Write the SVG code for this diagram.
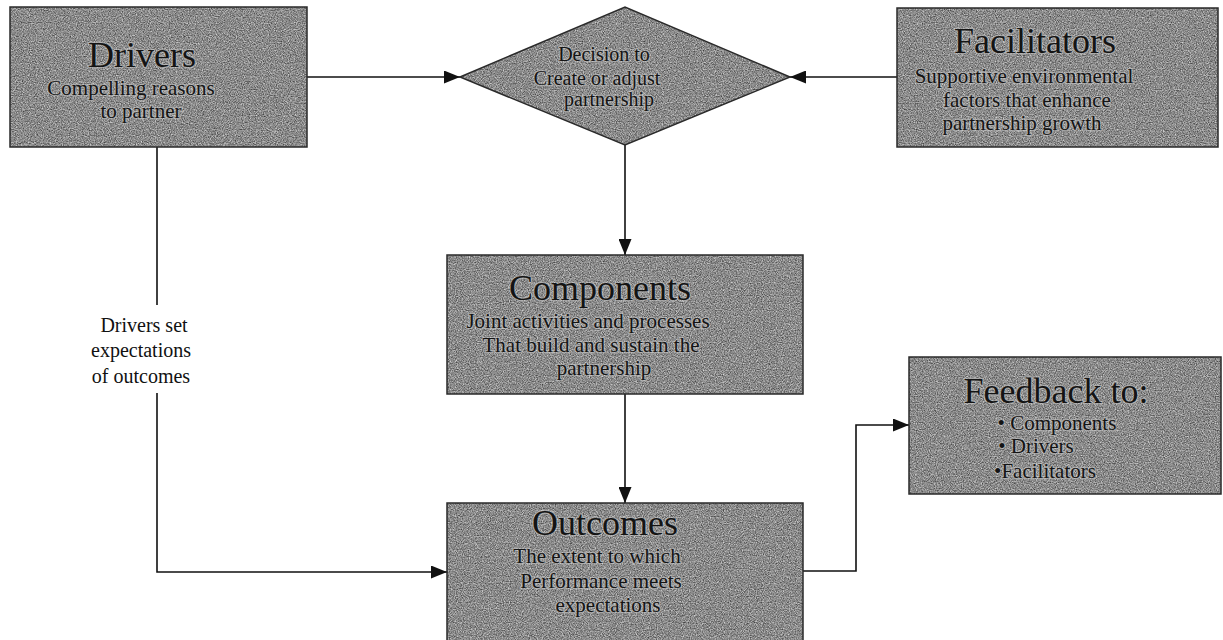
<svg xmlns="http://www.w3.org/2000/svg" width="1223" height="640" viewBox="0 0 1223 640">
<style>
  .tex { fill: #8a8a8a; filter: url(#grain); }
  .edge { fill: none; stroke: #2a2a2a; stroke-width: 1.5; }
  .title, .sub, .dia { font-family: "Liberation Serif", "Times New Roman", serif; fill: #141414; text-anchor: middle; stroke: #d0d0d0; stroke-opacity: 0.45; stroke-width: 2.5; paint-order: stroke; stroke-linejoin: round; }
  .title { font-size: 36px; }
  .sub { font-size: 21px; }
  .dia { font-size: 20px; }
  .lbl { font-family: "Liberation Serif", "Times New Roman", serif; font-size: 20px; fill: #111; text-anchor: middle; }
  .conn { fill: none; stroke: #111; stroke-width: 1.6; }
</style>
<defs>
  <filter id="grain" x="0" y="0" width="100%" height="100%" filterUnits="objectBoundingBox" color-interpolation-filters="sRGB">
    <feTurbulence type="fractalNoise" baseFrequency="0.85" numOctaves="2" seed="7" result="n"/>
    <feColorMatrix in="n" type="matrix" values="0.8 0 0 0 0.14  0.8 0 0 0 0.14  0.8 0 0 0 0.14  0 0 0 0 1" result="g"/>
    <feComposite in="g" in2="SourceGraphic" operator="in"/>
  </filter>
  <marker id="arr" markerUnits="userSpaceOnUse" markerWidth="17" markerHeight="13" refX="16" refY="6.5" orient="auto">
    <path d="M0,0 L16,6.5 L0,13 z" fill="#111"/>
  </marker>
</defs>
<rect width="1223" height="640" fill="#ffffff"/>

<g id="connectors">
  <line class="conn" x1="307" y1="77" x2="460" y2="77" marker-end="url(#arr)"/>
  <line class="conn" x1="897" y1="77" x2="790" y2="77" marker-end="url(#arr)"/>
  <line class="conn" x1="625" y1="145" x2="625" y2="255" marker-end="url(#arr)"/>
  <line class="conn" x1="625" y1="394" x2="625" y2="503" marker-end="url(#arr)"/>
  <path class="conn" d="M157,147 V305"/>
  <path class="conn" d="M157,393 V572 H447" marker-end="url(#arr)"/>
  <path class="conn" d="M803,571 H856 V425 H909" marker-end="url(#arr)"/>
  <g id="label-drivers-outcomes">
    <text class="lbl" x="144" y="332">Drivers set</text>
    <text class="lbl" x="141" y="357">expectations</text>
    <text class="lbl" x="141" y="383">of outcomes</text>
  </g>
</g>

<g id="drivers">
  <rect class="tex" x="10" y="7" width="297" height="140"/>
  <rect class="edge" x="10" y="7" width="297" height="140"/>
  <text class="title" x="142" y="67">Drivers</text>
  <text class="sub" x="131" y="95">Compelling reasons</text>
  <text class="sub" x="141" y="118">to partner</text>
</g>

<g id="decision">
  <polygon class="tex" points="460,77 625,7 790,77 625,145"/>
  <polygon class="edge" points="460,77 625,7 790,77 625,145"/>
  <text class="dia" x="604" y="61">Decision to</text>
  <text class="dia" x="597" y="85">Create or adjust</text>
  <text class="dia" x="609" y="106">partnership</text>
</g>

<g id="facilitators">
  <rect class="tex" x="897" y="8" width="321" height="139"/>
  <rect class="edge" x="897" y="8" width="321" height="139"/>
  <text class="title" x="1035" y="53">Facilitators</text>
  <text class="sub" x="1024" y="83">Supportive environmental</text>
  <text class="sub" x="1027" y="107">factors that enhance</text>
  <text class="sub" x="1022" y="130">partnership growth</text>
</g>

<g id="components">
  <rect class="tex" x="447" y="255" width="356" height="139"/>
  <rect class="edge" x="447" y="255" width="356" height="139"/>
  <text class="title" x="600" y="300">Components</text>
  <text class="sub" x="588" y="328">Joint activities and processes</text>
  <text class="sub" x="591" y="352">That build and sustain the</text>
  <text class="sub" x="604" y="375">partnership</text>
</g>

<g id="outcomes">
  <rect class="tex" x="447" y="503" width="356" height="145"/>
  <rect class="edge" x="447" y="503" width="356" height="145"/>
  <text class="title" x="605" y="535">Outcomes</text>
  <text class="sub" x="597" y="563">The extent to which</text>
  <text class="sub" x="601" y="588">Performance meets</text>
  <text class="sub" x="608" y="612">expectations</text>
</g>

<g id="feedback">
  <rect class="tex" x="909" y="357" width="312" height="137"/>
  <rect class="edge" x="909" y="357" width="312" height="137"/>
  <text class="title" x="1056" y="403">Feedback to:</text>
  <text class="sub" x="1057" y="430">• Components</text>
  <text class="sub" x="1036" y="453">• Drivers</text>
  <text class="sub" x="1045" y="478">•Facilitators</text>
</g>
</svg>
